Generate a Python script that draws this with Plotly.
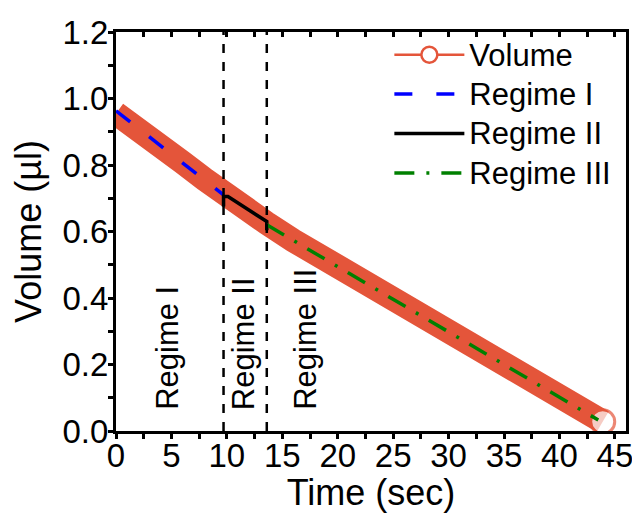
import plotly.graph_objects as go

# ---- data ----
volume_t = [0, 2, 4, 6, 8, 9.7, 11, 13.6, 16, 20, 25, 30, 35, 40, 43.9]
volume_v = [0.955, 0.911, 0.860, 0.808, 0.757, 0.712, 0.685, 0.625, 0.573,
            0.495, 0.397, 0.298, 0.200, 0.102, 0.028]

regime1_t = [0, 9.7]
regime1_v = [0.963, 0.710]

regime2_t = [9.7, 9.7, 10.1, 13.6, 13.6]
regime2_v = [0.675, 0.705, 0.705, 0.630, 0.604]

regime3_t = [13.6, 43.5]
regime3_v = [0.620, 0.033]

regime_bounds = [9.7, 13.6]
region_labels = ["Regime I", "Regime II", "Regime III"]
region_label_x = [4.7, 11.45, 17.1]
region_label_y = 0.058

x_ticks = [0, 5, 10, 15, 20, 25, 30, 35, 40, 45]
y_ticks = [0.0, 0.2, 0.4, 0.6, 0.8, 1.0, 1.2]

ORANGE = "#E4553A"
FONT = "Liberation Sans, Arial, sans-serif"


def big(label):
    return f'<span style="font-size:31px">{label}</span>'


fig = go.Figure()

n = len(volume_t)
sizes = [0] * (n - 1) + [24]
colors = [ORANGE] * (n - 1) + ["white"]

# thick band for the volume measurement
fig.add_trace(go.Scatter(
    x=volume_t, y=volume_v, mode="lines+markers",
    line=dict(color=ORANGE, width=24),
    marker=dict(symbol="circle", size=sizes, color=colors,
                line=dict(color=ORANGE, width=3)),
    showlegend=False, hoverinfo="skip", cliponaxis=True,
))
# legend entry for volume
fig.add_trace(go.Scatter(
    x=[None], y=[None], mode="lines+markers", name=big("Volume"),
    line=dict(color=ORANGE, width=2.5),
    marker=dict(symbol="circle", size=16, color="white",
                line=dict(color=ORANGE, width=2.5)),
))
fig.add_trace(go.Scatter(
    x=regime1_t, y=regime1_v, mode="lines", name=big("Regime I"),
    line=dict(color="#0000FF", width=3.5, dash="18px,24px"),
))
fig.add_trace(go.Scatter(
    x=regime2_t, y=regime2_v, mode="lines", name=big("Regime II"),
    line=dict(color="black", width=3.5),
))
fig.add_trace(go.Scatter(
    x=regime3_t, y=regime3_v, mode="lines", name=big("Regime III"),
    line=dict(color="#008000", width=3.5, dash="20px,12px,3px,12px"),
))
# dummy trace for top axis
fig.add_trace(go.Scatter(x=[None], y=[None], xaxis="x2", showlegend=False,
                         hoverinfo="skip"))

for b in regime_bounds:
    fig.add_shape(type="line", xref="x", yref="paper", x0=b, x1=b, y0=0, y1=1,
                  line=dict(color="black", width=2.5, dash="dash"))

for lab, lx in zip(region_labels, region_label_x):
    fig.add_annotation(x=lx, y=region_label_y, xref="x", yref="y", text=lab,
                       textangle=-90, showarrow=False, xanchor="center",
                       yanchor="bottom", font=dict(size=31, color="black", family=FONT))

xr = [0, 46]
fig.update_layout(
    width=632, height=505,
    margin=dict(l=108, r=14, t=24, b=82, autoexpand=False),
    paper_bgcolor="white", plot_bgcolor="white",
    font=dict(family=FONT, color="black"),
    xaxis=dict(
        range=xr, tickvals=x_ticks, ticktext=[str(v) for v in x_ticks],
        ticks="outside", ticklen=5, tickwidth=2.5, tickcolor="black",
        minor=dict(dtick=2.5, ticks="outside", ticklen=5, tickwidth=2.5, tickcolor="black"),
        showline=True, linewidth=3, linecolor="black", showgrid=False, zeroline=False,
        tickfont=dict(size=33, family=FONT), automargin=True, ticklabelstandoff=-12,
        title=dict(text="Time (sec)", font=dict(size=36, family=FONT), standoff=11),
    ),
    xaxis2=dict(
        range=xr, overlaying="x", side="top", anchor="y",
        tickvals=x_ticks, showticklabels=False,
        ticks="inside", ticklen=5, tickwidth=2.5, tickcolor="black",
        minor=dict(dtick=2.5, ticks="inside", ticklen=5, tickwidth=2.5, tickcolor="black"),
        showline=True, linewidth=3, linecolor="black", showgrid=False, zeroline=False,
        automargin=False,
    ),
    yaxis=dict(
        range=[0, 1.2], tickvals=y_ticks, ticktext=[f"{v:.1f}" for v in y_ticks],
        ticks="outside", ticklen=5, tickwidth=2.5, tickcolor="black",
        minor=dict(dtick=0.1, ticks="outside", ticklen=5, tickwidth=2.5, tickcolor="black"),
        showline=True, mirror=True, linewidth=3, linecolor="black",
        showgrid=False, zeroline=False, automargin=True, ticklabelstandoff=-7,
        tickfont=dict(size=33, family=FONT),
        title=dict(text="Volume (µl)", font=dict(size=36, family=FONT), standoff=21),
    ),
    legend=dict(
        x=0.536, y=1.005, xanchor="left", yanchor="top",
        bgcolor="rgba(0,0,0,0)", borderwidth=0,
        font=dict(size=28, family=FONT), itemwidth=70, tracegroupgap=0,
    ),
    showlegend=True,
)

fig.write_html("out.html")
